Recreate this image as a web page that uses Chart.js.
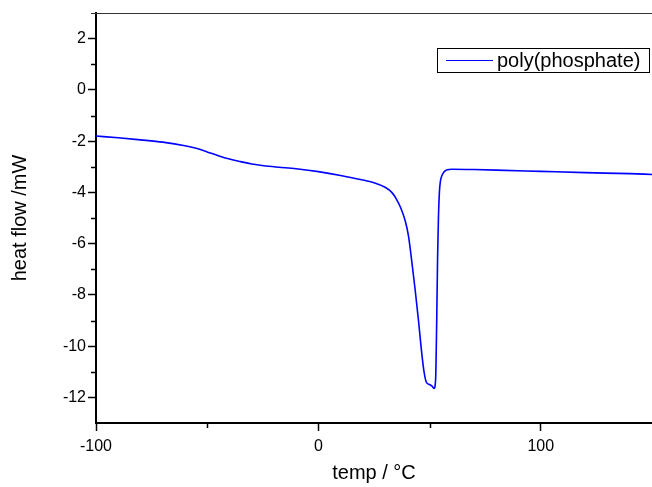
<!DOCTYPE html>
<html lang="en">
<head>
  <meta charset="UTF-8">
  <title>DSC - poly(phosphate)</title>
  <script src="https://cdn.jsdelivr.net/npm/chart.js"></script>
  <style>
    body { margin: 0; background: #fff; }
    #wrap { width: 652px; height: 487px; position: relative; }
  </style>
</head>
<body>
  <div id="wrap"><canvas id="dsc"></canvas></div>

  <script>
    // temperature (°C) and heat flow (mW)
    const temps = [-100, -90, -80, -70, -60, -55, -50, -45, -40, -35, -30, -20, -10, 0, 10, 20, 25, 30, 33, 35, 37, 39, 40.5, 42, 43.5, 45, 46.5, 47.5, 48.5, 50, 51, 52, 52.7, 53.2, 53.6, 54, 54.4, 54.8, 55.5, 56.5, 58, 60, 70, 80, 100, 120, 140, 150];
    const heatFlow = [-1.80, -1.87, -1.95, -2.04, -2.18, -2.28, -2.42, -2.57, -2.70, -2.80, -2.89, -3.00, -3.08, -3.19, -3.34, -3.52, -3.62, -3.80, -4.00, -4.25, -4.60, -5.10, -5.70, -6.70, -7.80, -9.00, -10.30, -11.00, -11.40, -11.50, -11.55, -11.65, -11.30, -9.00, -6.50, -4.90, -4.00, -3.60, -3.35, -3.20, -3.12, -3.10, -3.11, -3.13, -3.18, -3.23, -3.27, -3.30];
    const seriesName = 'poly(phosphate)';

    const xMajor = [-100, 0, 100];
    const xMinor = [-50, 50];
    const yMajor = [-12, -10, -8, -6, -4, -2, 0, 2];
    const yMinor = [-11, -9, -7, -5, -3, -1, 1];

    const FONT = "Arial, 'Liberation Sans', sans-serif";

    // minor ticks, top frame line and the boxed legend
    const extras = {
      id: 'extras',
      afterDraw(chart) {
        const c = chart.ctx;
        const a = chart.chartArea;
        const xs = chart.scales.x, ys = chart.scales.y;
        c.save();
        c.strokeStyle = '#000';
        c.lineWidth = 1.5;
        c.beginPath();
        xMinor.forEach(v => {
          const px = Math.round(xs.getPixelForValue(v)) + 0.5;
          c.moveTo(px, a.bottom); c.lineTo(px, a.bottom + 5);
        });
        yMinor.forEach(v => {
          const py = Math.round(ys.getPixelForValue(v)) + 0.5;
          c.moveTo(a.left, py); c.lineTo(a.left - 5, py);
        });
        c.stroke();

        // top frame
        c.lineWidth = 1.2;
        c.strokeStyle = '#333';
        c.beginPath();
        c.moveTo(a.left - 5, a.top + 0.5);
        c.lineTo(a.right, a.top + 0.5);
        c.stroke();

        // legend
        c.lineWidth = 1;
        c.strokeStyle = '#000';
        c.strokeRect(437.5, 48.5, 212, 24);
        c.strokeStyle = '#0000ff';
        c.lineWidth = 1.2;
        c.beginPath();
        c.moveTo(446, 60.5); c.lineTo(493, 60.5);
        c.stroke();
        c.fillStyle = '#000';
        c.font = '20px ' + FONT;
        c.textBaseline = 'middle';
        c.textAlign = 'left';
        c.fillText(seriesName, 497, 61);
        c.restore();
      }
    };

    new Chart(document.getElementById('dsc'), {
      type: 'line',
      data: {
        datasets: [{
          label: seriesName,
          data: temps.map((t, i) => ({ x: t, y: heatFlow[i] })),
          borderColor: '#0000ff',
          borderWidth: 1.6,
          pointRadius: 0,
          fill: false,
          cubicInterpolationMode: 'monotone'
        }]
      },
      options: {
        responsive: true,
        maintainAspectRatio: false,
        animation: false,
        layout: { padding: { top: 13, right: 0, left: 0, bottom: 0 } },
        plugins: { legend: { display: false }, tooltip: { enabled: false } },
        scales: {
          x: {
            type: 'linear',
            min: -100,
            max: 150,
            afterBuildTicks: s => { s.ticks = xMajor.map(v => ({ value: v })); },
            afterFit: s => { s.height = 64; },
            grid: { drawOnChartArea: false, tickLength: 8, tickColor: '#000', tickWidth: 1.5 },
            border: { color: '#000', width: 2 },
            ticks: { color: '#000', font: { family: FONT, size: 16 }, padding: 6, maxRotation: 0 },
            title: { display: true, text: 'temp / °C', color: '#000', font: { family: FONT, size: 20 }, padding: { top: 0, bottom: 2 } }
          },
          y: {
            min: -13,
            max: 3,
            afterBuildTicks: s => { s.ticks = yMajor.map(v => ({ value: v })); },
            afterFit: s => { s.width = 96; },
            grid: { drawOnChartArea: false, tickLength: 8, tickColor: '#000', tickWidth: 1.5 },
            border: { color: '#000', width: 2 },
            ticks: { color: '#000', font: { family: FONT, size: 16 }, padding: 2 },
            title: { display: true, text: 'heat flow /mW', color: '#000', font: { family: FONT, size: 20 }, padding: { top: 8, bottom: 0 } }
          }
        }
      },
      plugins: [extras]
    });
  </script>
</body>
</html>
